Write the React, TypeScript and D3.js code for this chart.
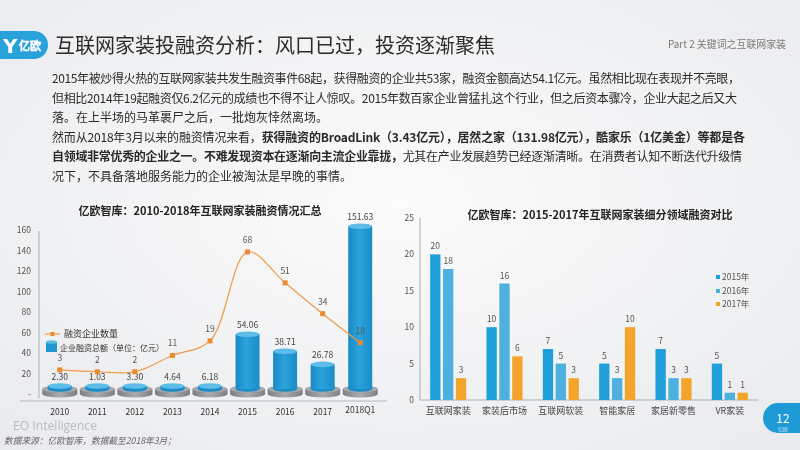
import React from "react";
import * as d3 from "d3";

// ---------- data ----------
const years = ["2010", "2011", "2012", "2013", "2014", "2015", "2016", "2017", "2018Q1"];
const fundingAmount = [2.3, 1.03, 3.3, 4.64, 6.18, 54.06, 38.71, 26.78, 151.63];
const dealCount = [3, 2, 2, 11, 19, 68, 51, 34, 18];
const leftTicks = [0, 20, 40, 60, 80, 100, 120, 140, 160];

const segments = ["互联网家装", "家装后市场", "互联网软装", "智能家居", "家居新零售", "VR家装"];
const seriesNames = ["2015年", "2016年", "2017年"];
const s2015 = [20, 10, 7, 5, 7, 5];
const s2016 = [18, 16, 5, 3, 3, 1];
const s2017 = [3, 6, 3, 10, 3, 1];
const rightTicks = [0, 5, 10, 15, 20, 25];

const FONT = "'Noto Sans CJK SC', 'Noto Sans', sans-serif";
const BLUE = "#1e9bd7";
const seriesColors = ["#1fa0da", "#4db0de", "#f5a42a"];

export default function App() {
  // left chart scales
  const xL = d3.scaleBand<string>().domain(years).range([41, 379]);
  const yL = d3.scaleLinear().domain([0, 160]).range([394, 230]);
  const yBar = d3.scaleLinear().domain([0, 160]).range([394, 217]);
  const yCount = d3.scaleLinear().domain([0, 80]).range([375.4, 230.2]);
  const cx = (y: string) => (xL(y) as number) + xL.bandwidth() / 2;
  const base = 389;

  const line = d3
    .line<number>()
    .x((_, i) => cx(years[i]))
    .y((d) => yCount(d))
    .curve(d3.curveCatmullRom.alpha(0.5));

  // right chart scales
  const x0 = d3.scaleBand<string>().domain(segments).range([420, 758]).paddingInner(0.36).paddingOuter(0.18);
  const x1 = d3.scaleBand<string>().domain(seriesNames).range([0, x0.bandwidth()]).paddingInner(0.2);
  const yR = d3.scaleLinear().domain([0, 25]).range([400, 218]);
  const series = [s2015, s2016, s2017];

  const paraX = 52;
  const lineY = (i: number) => 83 + 19.6 * i;

  return (
    <svg width={800} height={450} style={{ position: "fixed", left: 0, top: 0 }} fontFamily={FONT}>
      <defs>
        <radialGradient id="bg" cx="50%" cy="45%" r="75%">
          <stop offset="0%" stopColor="#fbfbfb" />
          <stop offset="100%" stopColor="#e8eaed" />
        </radialGradient>
        <linearGradient id="cyl" x1="0" x2="1" y1="0" y2="0">
          <stop offset="0%" stopColor="#1a88c2" />
          <stop offset="45%" stopColor="#2aa3dd" />
          <stop offset="100%" stopColor="#1b8cc6" />
        </linearGradient>
        <linearGradient id="plat" x1="0" x2="1" y1="0" y2="0">
          <stop offset="0%" stopColor="#7d7f82" />
          <stop offset="50%" stopColor="#a9abae" />
          <stop offset="100%" stopColor="#7d7f82" />
        </linearGradient>
      </defs>
      <rect x={0} y={0} width={800} height={450} fill="url(#bg)" />

      {/* header */}
      <rect x={-20} y={31} width={68} height={28} rx={14} fill="#29a1da" />
      <text x={3} y={53} fontSize={20} fontWeight={700} fill="#fff" fontFamily="'DejaVu Sans', sans-serif">Y</text>
      <text x={19} y={50} fontSize={11} fill="none" stroke="#fff" strokeWidth={0.8}>亿欧</text>
      <text x={55} y={53} fontSize={20} fill="#2b2b2b">互联网家装投融资分析：风口已过，投资逐渐聚焦</text>
      <text x={668} y={48} fontSize={10} fill="#7a7a7a" textLength={118} lengthAdjust="spacingAndGlyphs">Part 2 关键词之互联网家装</text>

      {/* paragraph */}
      <g fontSize={12} fill="#2a2a2a">
        <text x={paraX} y={lineY(0)} textLength={688} lengthAdjust="spacing">
          2015年被炒得火热的互联网家装共发生融资事件68起，获得融资的企业共53家，融资金额高达54.1亿元。虽然相比现在表现并不亮眼，
        </text>
        <text x={paraX} y={lineY(1)} textLength={685} lengthAdjust="spacing">
          但相比2014年19起融资仅6.2亿元的成绩也不得不让人惊叹。2015年数百家企业曾猛扎这个行业，但之后资本骤冷，企业大起之后又大
        </text>
        <text x={paraX} y={lineY(2)}>落。在上半场的马革裹尸之后，一批炮灰悻然离场。</text>
        <text x={paraX} y={lineY(3)} textLength={693} lengthAdjust="spacing">
          然而从2018年3月以来的融资情况来看，
          <tspan fontWeight={700}>获得融资的BroadLink（3.43亿元），居然之家（131.98亿元），酷家乐（1亿美金）等都是各</tspan>
        </text>
        <text x={paraX} y={lineY(4)} textLength={690} lengthAdjust="spacing">
          <tspan fontWeight={700}>自领域非常优秀的企业之一。不难发现资本在逐渐向主流企业靠拢，</tspan>
          尤其在产业发展趋势已经逐渐清晰。在消费者认知不断迭代升级情
        </text>
        <text x={paraX} y={lineY(5)}>况下，不具备落地服务能力的企业被淘汰是早晚的事情。</text>
      </g>

      {/* left chart */}
      <text x={200} y={215} fontSize={11} fontWeight={700} fill="#222" textAnchor="middle">
        亿欧智库：2010-2018年互联网家装融资情况汇总
      </text>
      <line x1={39} x2={39} y1={231} y2={398} stroke="#a9adb3" />
      <line x1={20} x2={387} y1={401} y2={401} stroke="#b4b8be" />
      {leftTicks.map((t) => (
        <text key={t} x={31} y={yL(t) + 3} fontSize={8.5} fill="#555" textAnchor="end">
          {t === 0 ? "-" : t}
        </text>
      ))}
      {years.map((y, i) => {
        const c = cx(y);
        const top = Math.min(yBar(fundingAmount[i]), base - 3);
        const rw = 12;
        return (
          <g key={y}>
            <rect x={c - 17.5} y={base} width={35} height={5} fill="url(#plat)" />
            <ellipse cx={c} cy={base + 5} rx={17.5} ry={3.5} fill="url(#plat)" />
            <ellipse cx={c} cy={base} rx={17.5} ry={3.5} fill="#a6a8ab" />
            <ellipse cx={c} cy={base} rx={rw} ry={2.8} fill="#1b8cc6" />
            <rect x={c - rw} y={top} width={rw * 2} height={base - top} fill="url(#cyl)" />
            <ellipse cx={c} cy={top} rx={rw} ry={2.8} fill="#5dbce8" />
            <text x={c} y={top - 6} fontSize={8.5} fill="#444" textAnchor="middle">
              {fundingAmount[i].toFixed(2)}
            </text>
            <text x={c} y={y === "2018Q1" ? 413 : 415} fontSize={8.5} fill="#333" textAnchor="middle">
              {y}
            </text>
          </g>
        );
      })}
      <path d={line(dealCount) as string} fill="none" stroke="#f29a48" strokeWidth={1.2} />
      {dealCount.map((v, i) => (
        <g key={i}>
          <rect x={cx(years[i]) - 2.5} y={yCount(v) - 2.5} width={5} height={5} fill="#ee8a2e" />
          <text x={cx(years[i])} y={yCount(v) - 9} fontSize={8.5} fill="#555" textAnchor="middle">
            {v}
          </text>
        </g>
      ))}
      {/* left legend */}
      <line x1={45} x2={60} y1={334} y2={334} stroke="#f29a48" strokeWidth={1.2} />
      <rect x={50.5} y={332} width={4} height={4} fill="#ee8a2e" />
      <text x={64} y={337} fontSize={9} fill="#333">融资企业数量</text>
      <rect x={46} y={342} width={11} height={10} fill="#1f97d2" />
      <ellipse cx={51.5} cy={342} rx={5.5} ry={1.8} fill="#5dbce8" />
      <text x={60} y={351} fontSize={8} fill="#333">企业融资总额（单位：亿元）</text>

      {/* right chart */}
      <text x={600} y={219} fontSize={11} fontWeight={700} fill="#222" textAnchor="middle">
        亿欧智库：2015-2017年互联网家装细分领域融资对比
      </text>
      <line x1={420} x2={420} y1={218} y2={400} stroke="#a9adb3" />
      <line x1={420} x2={758} y1={400} y2={400} stroke="#a9adb3" />
      {rightTicks.map((t) => (
        <text key={t} x={414} y={yR(t) + 3} fontSize={8.5} fill="#555" textAnchor="end">
          {t}
        </text>
      ))}
      {segments.map((s, si) => (
        <g key={s}>
          {series.map((arr, k) => {
            const bx = (x0(s) as number) + (x1(seriesNames[k]) as number);
            const v = arr[si];
            return (
              <g key={k}>
                <rect x={bx} y={yR(v)} width={x1.bandwidth()} height={yR(0) - yR(v)} fill={seriesColors[k]} />
                <text x={bx + x1.bandwidth() / 2} y={yR(v) - 5} fontSize={8.5} fill="#555" textAnchor="middle">
                  {v}
                </text>
              </g>
            );
          })}
          <text x={(x0(s) as number) + x0.bandwidth() / 2} y={414} fontSize={9} fill="#444" textAnchor="middle">
            {s}
          </text>
        </g>
      ))}
      {seriesNames.map((n, k) => (
        <g key={n}>
          <rect x={716} y={[277, 291, 304][k] - 2} width={4} height={4} fill={seriesColors[k]} />
          <text x={722} y={[277, 291, 304][k] + 3} fontSize={8.5} fill="#555">
            {n}
          </text>
        </g>
      ))}

      {/* footer */}
      <text x={13} y={430} fontSize={12} fill="#b9bcc0" textLength={84} lengthAdjust="spacingAndGlyphs" fontFamily="'Open Sans', sans-serif">
        EO Intelligence
      </text>
      <text x={4} y={444} fontSize={9} fill="#666" fontStyle="italic" textLength={172} lengthAdjust="spacingAndGlyphs">
        数据来源：亿欧智库，数据截至2018年3月；
      </text>
      <rect x={763} y={403} width={60} height={30} rx={15} fill={BLUE} />
      <text x={783} y={423} fontSize={12} fill="#fff" textAnchor="middle">12</text>
      <text x={783} y={431} fontSize={5} fill="#bfe3f5" textAnchor="middle">亿欧</text>
    </svg>
  );
}
